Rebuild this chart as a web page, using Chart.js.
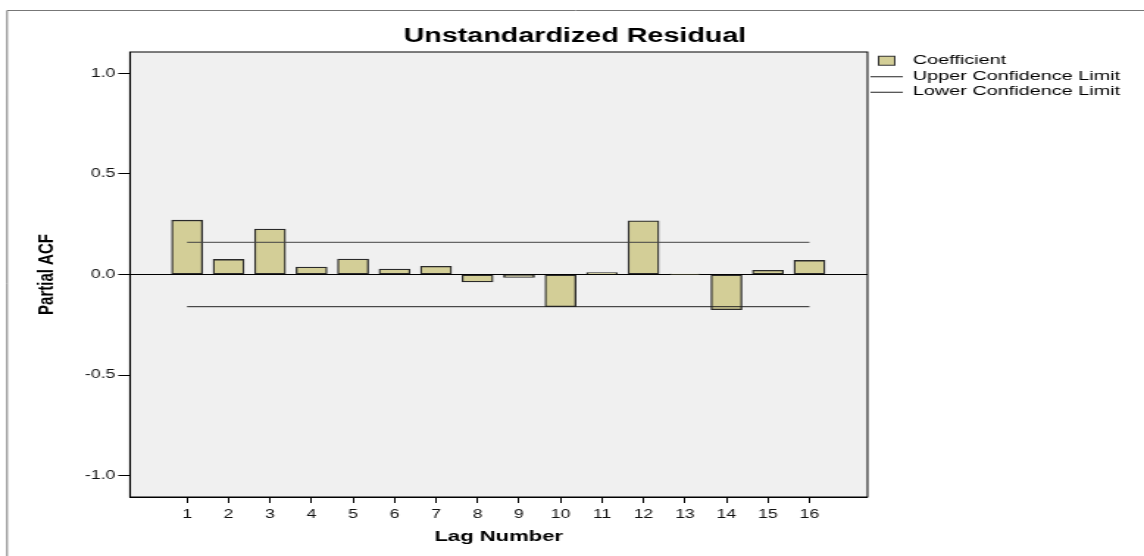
<!DOCTYPE html>
<html>
<head>
<meta charset="utf-8">
<title>Unstandardized Residual</title>
<script src="https://cdn.jsdelivr.net/npm/chart.js@4.4.1/dist/chart.umd.min.js"></script>
<style>
  html, body { margin: 0; padding: 0; background: #fff; }
  #chart { display: block; }
</style>
</head>
<body>
<!-- the chart is drawn narrow and stretched sideways, like the original picture -->
<canvas id="chart" width="778" height="556" style="width:1144px;height:556px"></canvas>
<script>
// lag numbers and partial ACF coefficients
const lags = [1, 2, 3, 4, 5, 6, 7, 8, 9, 10, 11, 12, 13, 14, 15, 16];
const coefficients = [0.270, 0.075, 0.226, 0.037, 0.077, 0.027, 0.041, -0.037,
                      -0.014, -0.160, 0.009, 0.267, 0.002, -0.175, 0.021, 0.070];
// confidence limits, drawn from first to last lag
const limitLags = [1, 16];
const upperLimit = [0.160, 0.160];
const lowerLimit = [-0.160, -0.160];
const yTicks = [-1.0, -0.5, 0.0, 0.5, 1.0];

const fontFamily = "'Liberation Sans', Arial, sans-serif";
const barColor = '#d3ce97';

// small pictures for the legend (box for the bars, line for the limits)
function makeLegendIcon(kind) {
    const c = document.createElement('canvas');
    c.width = 22;
    c.height = 12;
    const g = c.getContext('2d');
    if (kind === 'box') {
        g.fillStyle = barColor;
        g.fillRect(5.5, 1.5, 11, 9);
        g.strokeStyle = '#333';
        g.lineWidth = 1;
        g.strokeRect(5.5, 1.5, 11, 9);
    } else {
        g.strokeStyle = '#222';
        g.lineWidth = 1;
        g.beginPath();
        g.moveTo(0, 6.5);
        g.lineTo(22, 6.5);
        g.stroke();
    }
    return c;
}
const legendIcons = [makeLegendIcon('box'), makeLegendIcon('line'), makeLegendIcon('line')];

// grey plot area, black frame round it, thin frame round the whole picture
const plotFrame = {
    id: 'plotFrame',
    beforeDraw(chart) {
        const { ctx, chartArea: a, width, height } = chart;
        ctx.save();
        ctx.fillStyle = '#fff';
        ctx.fillRect(0, 0, width, height);
        ctx.strokeStyle = '#777';
        ctx.lineWidth = 1;
        ctx.beginPath();
        ctx.moveTo(4.8, height);
        ctx.lineTo(4.8, 10.5);
        ctx.lineTo(width, 10.5);
        ctx.stroke();
        ctx.fillStyle = '#f0f0f0';
        ctx.fillRect(a.left, a.top, a.width, a.height);
        ctx.restore();
    },
    afterDraw(chart) {
        const { ctx, chartArea: a } = chart;
        ctx.save();
        ctx.strokeStyle = '#000';
        ctx.lineWidth = 1;
        ctx.strokeRect(a.left, a.top, a.width, a.height);
        ctx.restore();
    }
};

const ctx = document.getElementById('chart').getContext('2d');
new Chart(ctx, {
    type: 'bar',
    data: {
        datasets: [{
            type: 'bar',
            label: 'Coefficient',
            data: lags.map((x, i) => ({ x: x, y: coefficients[i] })),
            backgroundColor: barColor,
            borderColor: '#2a2a2a',
            borderWidth: 1.3,
            borderSkipped: false,
            barThickness: 21,
            order: 2
        }, {
            type: 'line',
            label: 'Upper Confidence Limit',
            data: limitLags.map((x, i) => ({ x: x, y: upperLimit[i] })),
            borderColor: '#444',
            borderWidth: 1,
            pointRadius: 0,
            fill: false,
            order: 1
        }, {
            type: 'line',
            label: 'Lower Confidence Limit',
            data: limitLags.map((x, i) => ({ x: x, y: lowerLimit[i] })),
            borderColor: '#222',
            borderWidth: 1,
            pointRadius: 0,
            fill: false,
            order: 1
        }]
    },
    options: {
        responsive: false,
        animation: false,
        devicePixelRatio: 1,
        layout: { padding: { top: 0, right: 6.2, bottom: 0, left: 10.2 } },
        plugins: {
            title: {
                display: true,
                text: 'Unstandardized Residual',
                color: '#000',
                font: { family: fontFamily, size: 19.5, weight: 'bold' },
                padding: { top: 25.3, bottom: 3.3 }
            },
            legend: {
                position: 'right',
                align: 'start',
                fullSize: false,
                labels: {
                    usePointStyle: true,
                    pointStyleWidth: 22,
                    padding: 2,
                    color: '#000',
                    font: { family: fontFamily, size: 13.5 },
                    generateLabels: chart => chart.data.datasets.map((ds, i) => ({
                        text: ds.label,
                        pointStyle: legendIcons[i],
                        fillStyle: barColor,
                        strokeStyle: '#333',
                        lineWidth: 0,
                        hidden: false,
                        datasetIndex: i
                    }))
                }
            },
            tooltip: { enabled: false }
        },
        scales: {
            x: {
                type: 'linear',
                min: -0.376,
                max: 17.4,
                offset: false,
                afterBuildTicks: scale => { scale.ticks = lags.map(v => ({ value: v })); },
                afterFit: scale => { scale.height = 59; },
                ticks: {
                    autoSkip: false,
                    maxRotation: 0,
                    padding: 4,
                    color: '#111',
                    font: { family: fontFamily, size: 12 },
                    callback: v => String(v)
                },
                grid: { drawOnChartArea: false, offset: false, tickLength: 6, tickColor: '#000' },
                border: { color: '#000' },
                title: {
                    display: true,
                    text: 'Lag Number',
                    color: '#000',
                    font: { family: fontFamily, size: 15, weight: 'bold' },
                    padding: { top: 0, bottom: 10 }
                }
            },
            y: {
                type: 'linear',
                min: -1.106,
                max: 1.106,
                afterBuildTicks: scale => { scale.ticks = yTicks.map(v => ({ value: v })); },
                afterFit: scale => { scale.width = 78.2; },
                ticks: {
                    padding: 2,
                    color: '#111',
                    font: { family: fontFamily, size: 12 },
                    callback: v => v.toFixed(1)
                },
                grid: {
                    // only the zero line runs across the plot
                    color: c => (c.tick && c.tick.value === 0) ? '#000' : 'rgba(0,0,0,0)',
                    tickColor: '#000',
                    tickLength: 8
                },
                border: { color: '#000' },
                title: {
                    display: true,
                    text: 'Partial ACF',
                    color: '#000',
                    font: { family: fontFamily, size: 15, weight: 'bold' },
                    padding: { top: 12.8, bottom: 0 }
                }
            }
        }
    },
    plugins: [plotFrame]
});
</script>
</body>
</html>
